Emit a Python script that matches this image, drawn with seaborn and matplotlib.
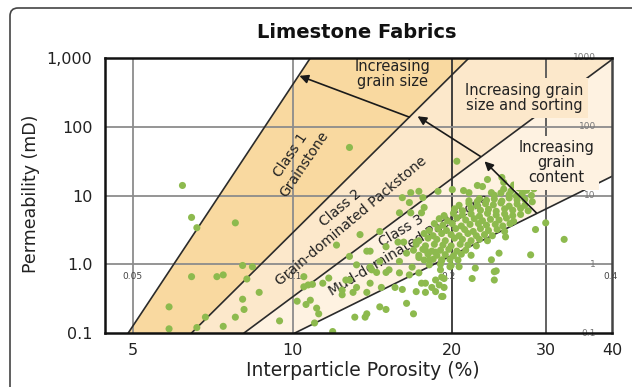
import matplotlib
matplotlib.use("Agg")
import numpy as np
import pandas as pd
import matplotlib.pyplot as plt
import seaborn as sns
from matplotlib.patches import Polygon, FancyBboxPatch
from matplotlib.transforms import IdentityTransform

# ---- axis ticks -------------------------------------------------------
x_ticks = [5, 10, 20, 30, 40]
x_tick_labels = ["5", "10", "20", "30", "40"]
y_ticks = [0.1, 1, 10, 100, 1000]
y_tick_labels = ["0.1", "1.0", "10", "100", "1,000"]

# ---- class boundary lines: (porosity %, permeability mD) at both ends --
line_por = [[4.9, 10.8], [6.45, 21.5], [8.1, 40.0], [10.1, 40.0]]
line_perm = [[0.1, 1000], [0.1, 1000], [0.1, 950], [0.1, 19]]

# ---- arrows between the class lines -----------------------------------
arrow_tail_por = [16.6, 22.6, 28.8]
arrow_tail_perm = [138, 37, 5.6]
arrow_head_por = [10.3, 17.2, 23.0]
arrow_head_perm = [550, 142, 31.4]

# ---- small particle-size labels ---------------------------------------
size_labels_bottom = ["0.05", "0.1", "0.2", "0.4"]
size_labels_bottom_por = [5.0, 10.1, 19.7, 39.7]
size_labels_right = ["1000", "100", "10", "1", "0.1"]
size_labels_right_perm = [1000, 100, 10, 1, 0.1]

# ---- measured samples: scattered points -------------------------------
scatter_por = [
    6.2, 12.8, 6.45, 6.6, 7.8, 6.45, 7.2, 7.4, 8.05, 8.4, 8.2, 5.85, 5.85, 6.6,
    6.85, 7.4, 7.8, 8.05, 8.1, 8.65, 9.45, 10.2, 10.6, 10.5, 10.7, 10.9,
    16.7, 16.1, 17.6, 18.8, 17.7, 17.5, 15.9, 16.7, 16.6, 17.3, 14.6, 13.4,
    12.8, 13.8, 12.1, 11.4, 11.7, 10.5, 11.1, 11.2, 11.0, 11.9, 12.4, 12.6,
    13.1, 13.8, 13.7, 14.6, 15.0, 16.4, 16.9, 13.0, 13.8, 14.0, 14.7, 15.0,
    15.6, 16.1, 16.6, 17.1, 17.8, 18.6, 19.1, 18.9, 18.3, 17.5, 15.9, 16.8,
    15.2, 14.4, 14.0, 14.6, 13.2, 15.8, 17.1, 17.8, 18.6, 19.1, 19.8, 18.1,
    17.3, 16.4, 10.8, 12.4, 13.2, 12.8, 14.1, 15.9, 17.3, 17.8, 18.6, 19.1,
    19.0, 21.8, 24.0, 24.0, 22.1, 23.7, 24.5, 25.2, 28.7, 30.0, 32.5, 28.1,
    14.0, 15.0, 16.2, 19.3, 19.2, 19.3, 20.6, 24.2, 26.9, 25.0, 24.8, 22.8,
    23.3, 20.4, 22.3, 21.0, 20.0, 22.3, 21.5, 23.7,
]
scatter_perm = [
    14.0, 50, 4.8, 3.4, 4.0, 0.66, 0.66, 0.70, 0.96, 0.92, 0.61, 0.24, 0.115, 0.12,
    0.17, 0.125, 0.17, 0.31, 0.22, 0.39, 0.15, 0.29, 0.26, 0.66, 0.50, 0.51,
    11.0, 9.3, 9.3, 11.5, 6.7, 5.6, 5.6, 5.6, 7.9, 11.5, 3.0, 2.7,
    1.3, 1.55, 1.9, 0.53, 0.63, 0.47, 0.23, 0.19, 0.14, 0.105, 0.36, 0.59,
    0.17, 0.19, 0.17, 0.24, 0.22, 0.27, 0.19, 0.39, 0.39, 0.53, 0.46, 0.76,
    0.46, 0.43, 0.70, 0.40, 0.39, 0.40, 0.34, 0.50, 0.46, 0.53, 1.1, 0.91,
    0.83, 0.76, 0.91, 1.1, 0.98, 2.1, 2.1, 1.6, 1.5, 1.16, 0.92, 1.16,
    1.25, 1.45, 0.30, 0.42, 0.46, 0.59, 0.83, 0.75, 0.75, 0.53, 0.59, 0.65,
    0.83, 0.62, 0.59, 0.78, 0.88, 1.16, 1.45, 2.5, 3.2, 4.0, 2.3, 1.37,
    1.55, 1.8, 2.1, 0.46, 0.34, 0.62, 0.92, 0.80, 13.5, 15.5, 18.3, 13.5,
    17.1, 31.5, 14.0, 11.8, 12.2, 8.2, 11.0, 11.0,
]

# ---- measured samples: dense cluster of mud-dominated packstones -------
cluster_por = [
    26.1, 27.6,
    25.0, 25.8, 26.7, 27.6, 28.5,
    24.0, 24.7, 25.6, 26.4, 27.1, 28.2,
    21.5, 22.5, 23.2, 24.0, 24.8, 25.6, 26.5, 27.4, 28.3,
    20.6, 21.5, 22.3, 23.1, 23.9, 24.7, 25.6, 26.5, 27.4,
    20.2, 20.9, 21.7, 22.6, 23.4, 24.2, 25.1, 26.0, 26.9, 27.8,
    19.3, 20.1, 20.9, 21.7, 22.5, 23.3, 24.2, 25.1, 26.0, 26.9,
    18.9, 19.6, 20.4, 21.2, 22.0, 22.8, 23.6, 24.5, 25.3, 26.1,
    18.5, 19.2, 20.0, 20.8, 21.6, 22.4, 23.2, 24.1, 24.9, 25.7,
    18.1, 18.8, 19.5, 20.3, 21.1, 21.9, 22.6, 23.4, 24.3, 25.1,
    17.7, 18.4, 19.1, 19.9, 20.6, 21.4, 22.2, 23.0, 23.8,
    17.3, 18.0, 18.7, 19.4, 20.2, 20.9, 21.7, 22.5, 23.3,
    17.1, 17.8, 18.5, 19.2, 19.9, 20.7, 21.4, 22.2,
    16.9, 17.6, 18.3, 19.0, 19.7, 20.4, 21.2,
    17.3, 18.0, 18.7, 19.4, 20.1, 20.8, 21.7,
    17.7, 18.4, 19.1, 19.8, 20.5,
    18.1, 19.0, 19.9,
]
cluster_perm = [
    14.2, 13.6,
    12.4, 11.6, 12.8, 11.9, 12.5,
    10.1, 10.9, 10.3, 9.8, 10.7, 10.0,
    8.4, 9.0, 8.5, 8.9, 8.3, 9.2, 8.6, 8.8, 8.1,
    7.2, 7.7, 7.1, 7.6, 7.3, 7.8, 7.0, 7.5, 7.2,
    6.4, 6.0, 6.5, 6.1, 6.3, 5.9, 6.4, 6.1, 6.5, 6.0,
    5.1, 5.5, 5.2, 5.4, 5.0, 5.5, 5.2, 5.4, 5.1, 5.3,
    4.6, 4.3, 4.7, 4.4, 4.6, 4.3, 4.5, 4.4, 4.7, 4.2,
    3.9, 3.7, 3.9, 3.6, 3.8, 3.9, 3.7, 3.8, 3.6, 3.9,
    3.1, 3.3, 3.1, 3.3, 3.2, 3.0, 3.3, 3.1, 3.2, 3.0,
    2.8, 2.6, 2.8, 2.7, 2.6, 2.8, 2.6, 2.7, 2.6,
    2.2, 2.4, 2.3, 2.2, 2.4, 2.3, 2.2, 2.3, 2.2,
    1.95, 1.85, 1.95, 1.9, 1.85, 1.95, 1.9, 1.85,
    1.6, 1.65, 1.55, 1.6, 1.65, 1.55, 1.6,
    1.35, 1.4, 1.35, 1.38, 1.33, 1.4, 1.35,
    1.15, 1.18, 1.13, 1.17, 1.15,
    0.98, 1.0, 0.96,
]

samples = pd.DataFrame({
    "porosity": scatter_por + cluster_por,
    "permeability": scatter_perm + cluster_perm,
})

# ---- colours -----------------------------------------------------------
class_colors = ["#F9D9A0", "#FCE8CB", "#FEF2E1"]
point_color = "#8DBA4E"
line_color = "#2b2b2b"

sns.set_style("white")
plt.rcParams["font.family"] = ["DejaVu Sans"]

fig = plt.figure(figsize=(6.32, 3.87), dpi=100)
ax = fig.add_axes([105 / 632, 1 - 333 / 387, 507 / 632, 275 / 387])
ax.set_xscale("log")
ax.set_yscale("log")
ax.set_xlim(4.43, 40)
ax.set_ylim(0.1, 1000)

# class bands
l1, l2, l3, l4 = [list(zip(p, k)) for p, k in zip(line_por, line_perm)]
bands = [
    [l1[0], l1[1], l2[1], l2[0]],
    [l2[0], l2[1], (40, 1000), l3[1], l3[0]],
    [l3[0], l3[1], l4[1], l4[0]],
]
for verts, c in zip(bands, class_colors):
    ax.add_patch(Polygon(verts, closed=True, facecolor=c, edgecolor="none", zorder=1))

# grid lines
for xv, c in zip([5, 10, 20, 30], ["#8c8c8c", "#8c8c8c", "#333333", "#555555"]):
    ax.axvline(xv, color=c, lw=1.3, zorder=1.5)
for yv in [1, 10, 100]:
    ax.axhline(yv, color="#8c8c8c", lw=1.3, zorder=1.5)

# class boundary lines
for p, k in zip(line_por, line_perm):
    ax.plot(p, k, color=line_color, lw=1.2, zorder=2)

# particle-size labels
for lab, xv in zip(size_labels_bottom, size_labels_bottom_por):
    ax.text(xv, 0.66, lab, fontsize=6.5, color="#444444", ha="center",
            va="center", zorder=2.2, clip_on=False)
for lab, yv in zip(size_labels_right, size_labels_right_perm):
    ax.text(37.3, yv, lab, fontsize=6.5, color="#777777", ha="right",
            va="center", zorder=2.2, clip_on=False)

# class names
ax.text(10.2, 33, "Class 1\nGrainstone", rotation=56, rotation_mode="anchor",
        ha="center", va="center", multialignment="center", fontsize=10,
        color="#222222", zorder=2.5)
ax.text(12.6, 5.3, "Class 2\nGrain-dominated Packstone", rotation=40,
        rotation_mode="anchor", ha="center", va="center",
        multialignment="center", fontsize=10, color="#222222", zorder=2.5)
ax.text(16.3, 2.4, "Class 3\nMud-dominated Packstone", rotation=31,
        rotation_mode="anchor", ha="center", va="center",
        multialignment="center", fontsize=10, color="#222222", zorder=2.5)

# samples
sns.scatterplot(data=samples, x="porosity", y="permeability", ax=ax,
                color=point_color, s=26, edgecolor="none", linewidth=0,
                legend=False, zorder=3)

# trend arrows
for tp, tk, hp, hk in zip(arrow_tail_por, arrow_tail_perm,
                          arrow_head_por, arrow_head_perm):
    ax.annotate("", xy=(hp, hk), xytext=(tp, tk),
                arrowprops=dict(arrowstyle="-|>", color="#1a1a1a", lw=1.2,
                                mutation_scale=13, shrinkA=0, shrinkB=0),
                zorder=4)

# trend notes
ax.text(15.4, 580, "Increasing\ngrain size", ha="center", va="center",
        multialignment="center", fontsize=10.5, color="#222222",
        linespacing=1.0, zorder=5)
ax.text(27.3, 261, "Increasing grain\nsize and sorting", ha="center",
        va="center", multialignment="center", fontsize=10.5,
        color="#222222", linespacing=1.0, zorder=5,
        bbox=dict(boxstyle="square,pad=0.35", fc=class_colors[1], ec="none"))
ax.text(31.4, 30, "Increasing\ngrain\ncontent", ha="center", va="center",
        multialignment="center", fontsize=10.5, color="#222222",
        linespacing=1.0, zorder=5,
        bbox=dict(boxstyle="square,pad=0.3", fc=class_colors[2], ec="none"))

# axes styling
ax.minorticks_off()
ax.set_xticks(x_ticks)
ax.set_xticklabels(x_tick_labels)
ax.set_yticks(y_ticks)
ax.set_yticklabels(y_tick_labels)
ax.tick_params(axis="both", length=0, labelsize=11.5, labelcolor="#222222")
ax.tick_params(axis="x", pad=7)
ax.tick_params(axis="y", pad=9)
for side, sp in ax.spines.items():
    sp.set_visible(True)
    sp.set_linewidth(1.8)
    sp.set_color("#111111" if side != "right" else "#444444")
    sp.set_zorder(6)

ax.set_xlabel("Interparticle Porosity (%)", fontsize=13.5, color="#222222",
              va="center")
ax.xaxis.set_label_coords(0.509, -0.135)
ax.set_ylabel("Permeability (mD)", fontsize=12.5, color="#222222", va="center")
ax.yaxis.set_label_coords(-0.146, 0.505)

fig.text(357 / 632, 1 - 32 / 387, "Limestone Fabrics", fontsize=14,
         fontweight="bold", ha="center", va="center", color="#111111")

# outer frame
fig.patches.append(FancyBboxPatch((10, -30), 700, 379 + 30,
                                  boxstyle="round,pad=0,rounding_size=8",
                                  transform=IdentityTransform(), fill=False,
                                  ec="#444444", lw=1.2))

fig.savefig("out.png", dpi=100)
